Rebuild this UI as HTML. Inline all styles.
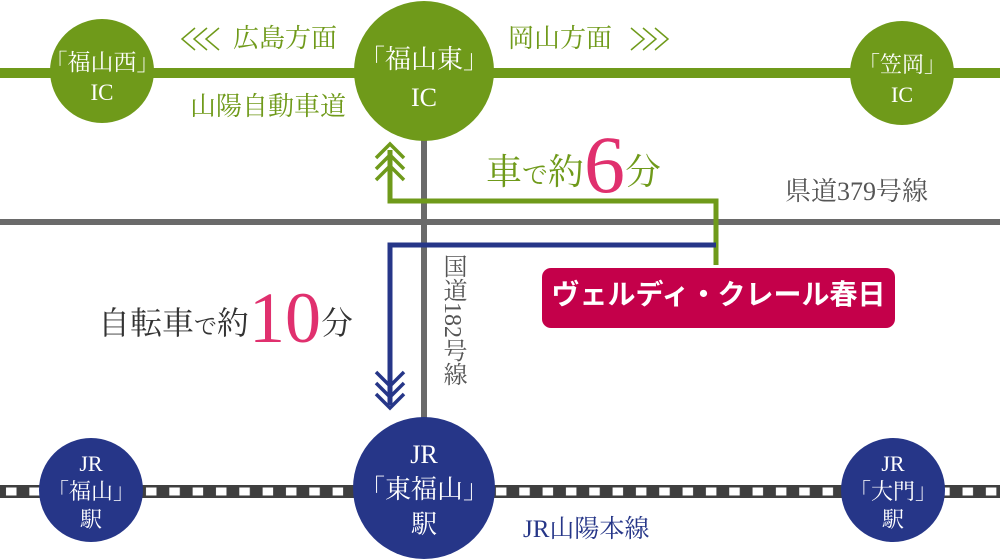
<!DOCTYPE html>
<html><head><meta charset="utf-8"><style>
html,body{margin:0;padding:0;background:#fff;}
body{width:1000px;height:560px;overflow:hidden;position:relative;}
.s{font-family:"Liberation Serif","Noto Serif CJK JP","Noto Serif CJK SC",serif;}
.g{font-family:"Liberation Sans","Noto Sans CJK JP",sans-serif;}
.t{position:absolute;white-space:nowrap;line-height:1;}
</style></head><body>
<svg width="1000" height="560" style="position:absolute;left:0;top:0">
<defs>
<pattern id="rail" x="0" y="485" width="23.33" height="13" patternUnits="userSpaceOnUse">
<rect width="23.33" height="13" fill="#3f3f3f"/>
<rect x="6" y="2.5" width="10.5" height="8" fill="#fff"/>
</pattern>
</defs>
<rect x="0" y="68" width="1000" height="10" fill="#6f9a1a"/>
<rect x="0" y="219" width="1000" height="6" fill="#6a6a6a"/>
<rect x="421" y="130" width="6" height="300" fill="#6a6a6a"/>
<rect x="0" y="485" width="1000" height="13" fill="url(#rail)"/>
<polyline points="390,150 390,201 716,201 716,265" fill="none" stroke="#6f9a1a" stroke-width="5"/>
<g fill="none" stroke="#6f9a1a" stroke-width="3.5">
<polyline points="376,158 390,144 404,158"/>
<polyline points="376,169 390,155 404,169"/>
<polyline points="376,180 390,166 404,180"/>
</g>
<polyline points="716,245 390,245 390,405" fill="none" stroke="#263688" stroke-width="5"/>
<g fill="none" stroke="#263688" stroke-width="3.5">
<polyline points="376,372 390,386 404,372"/>
<polyline points="376,383 390,397 404,383"/>
<polyline points="376,394 390,408 404,394"/>
</g>
<g fill="none" stroke="#6f9a1a" stroke-width="1.5">
<polyline points="195,28 182,39 195,50"/><polyline points="207,28 194,39 207,50"/><polyline points="219,28 206,39 219,50"/>
<polyline points="631,28 644,39 631,50"/><polyline points="643,28 656,39 643,50"/><polyline points="655,28 668,39 655,50"/>
</g>
<circle cx="102" cy="71" r="52" fill="#6f9a1a"/>
<circle cx="424" cy="71" r="70" fill="#6f9a1a"/>
<circle cx="902" cy="73" r="52" fill="#6f9a1a"/>
<circle cx="91" cy="490" r="52" fill="#263688"/>
<circle cx="424" cy="488" r="71" fill="#263688"/>
<circle cx="893" cy="490" r="52" fill="#263688"/>
<rect x="542" y="268" width="353" height="60" rx="9" fill="#c4004a"/>
</svg>

<div class="t s" style="left:233px;top:26px;font-size:26px;color:#6f9a1a">広島方面</div>
<div class="t s" style="left:508px;top:26px;font-size:26px;color:#6f9a1a">岡山方面</div>
<div class="t s" style="left:190px;top:94px;font-size:26px;color:#6f9a1a">山陽自動車道</div>

<div class="t s" style="left:42px;top:48px;width:120px;text-align:center;font-size:23px;color:#fff;line-height:30px">「福山西」<br>IC</div>
<div class="t s" style="left:349px;top:41px;width:150px;text-align:center;font-size:26px;color:#fff;line-height:38px">「福山東」<br>IC</div>
<div class="t s" style="left:845px;top:50px;width:114px;text-align:center;font-size:22px;color:#fff;line-height:30px">「笠岡」<br>IC</div>

<div class="t s" style="left:486px;top:124px;color:#6f9a1a;font-size:36px"><span>車</span><span style="font-size:26px">で</span><span>約</span><span style="color:#e0306e;font-size:82px;vertical-align:-8px">6</span><span>分</span></div>
<div class="t s" style="left:785px;top:179px;font-size:26px;color:#555">県道379号線</div>

<div class="t s" style="left:98px;top:282px;color:#333;font-size:32px"><span>自転車</span><span style="font-size:23px">で</span><span>約</span><span style="color:#e0306e;font-size:72px;vertical-align:-8px">10</span><span>分</span></div>

<div class="t s" style="left:440px;top:254px;font-size:24px;color:#555;writing-mode:vertical-rl;">国道182号線</div>

<div class="t g" style="left:542px;top:281px;width:353px;text-align:center;font-size:28px;font-weight:bold;color:#fff">ヴェルディ・クレール春日</div>

<div class="t s" style="left:36px;top:450px;width:110px;text-align:center;font-size:22px;color:#fff;line-height:28px">JR<br>「福山」<br>駅</div>
<div class="t s" style="left:348px;top:437px;width:152px;text-align:center;font-size:26px;color:#fff;line-height:35px">JR<br>「東福山」<br>駅</div>
<div class="t s" style="left:838px;top:450px;width:110px;text-align:center;font-size:22px;color:#fff;line-height:28px">JR<br>「大門」<br>駅</div>

<div class="t s" style="left:523px;top:517px;font-size:25px;color:#263688">JR山陽本線</div>
</body></html>
